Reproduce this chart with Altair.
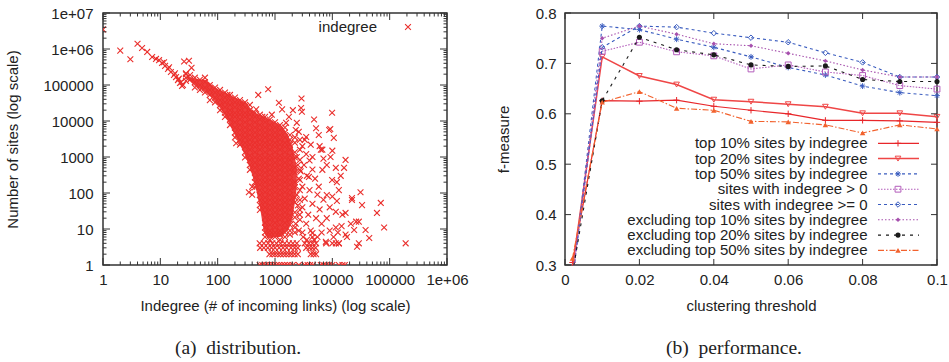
import altair as alt
import pandas as pd

FONT = "Liberation Sans"
SERIF = "Liberation Serif"
TXT = "#222222"
FRAME = "#333333"
RED = "#ea2f2c"

# ---------------- (a) distribution: indegree vs number of sites ----------------
band_x = [1, 2, 3, 4, 4.8, 5.9, 7.2, 8.4, 9.5, 10.7, 11.6, 12.1, 13.6, 14.2, 15.3, 17.3,
          18, 18.8, 20.3, 21, 22, 23, 23.9, 24.8]
band_y = [3.5e6, 9e5, 5.2e5, 1.4e6, 1.07e6, 8.3e5, 6.0e5, 5.3e5, 4.9e5, 4.1e5, 4.3e5, 3.4e5,
          2.8e5, 3.1e5, 2.3e5, 1.9e5, 2.1e5, 1.66e5, 1.37e5, 1.5e5, 1.14e5, 1.2e5, 9.4e4, 1.0e5]

core_columns = [
    (28, [200000, 160000, 130000]),
    (33, [190000, 140000]),
    (40, [160000, 120000, 85000]),
    (49, [140000, 100000, 73000]),
    (60, [160000, 120000, 85000, 62000]),
    (73, [100000, 73000, 53000, 38000]),
    (90, [85000, 62000, 45000, 33000]),
    (110, [73000, 53000, 38000, 28000, 20000]),
    (134, [62000, 45000, 33000, 24000, 17000, 13000]),
    (164, [53000, 38000, 28000, 20000, 15000, 11000, 7700]),
    (200, [45000, 33000, 24000, 17000, 13000, 9200, 6600, 4800, 3500]),
    (245, [38000, 28000, 20000, 15000, 11000, 7700, 5600, 4100, 3000, 2200]),
    (300, [33000, 24000, 17000, 13000, 9200, 6600, 4800, 3500, 2500, 1900, 1350, 970]),
    (365, [28000, 20000, 15000, 11000, 7700, 5600, 4100, 3000, 2200, 1600, 1100, 830, 600, 440]),
    (447, [17000, 13000, 9200, 6600, 4800, 3500, 2500, 1900, 1350, 970, 700, 510, 370, 270, 200, 145]),
    (545, [15000, 11000, 7700, 5600, 4100, 3000, 2200, 1600, 1100, 830, 600, 440, 320, 230, 170,
           120, 88, 64, 46, 34]),
    (670, [13000, 9200, 6600, 4800, 3500, 2500, 1900, 1350, 970, 700, 510, 370, 270, 200, 145,
           105, 75, 55, 40, 29, 21, 15, 11, 8, 6]),
    (815, [11000, 7700, 5600, 4100, 3000, 2200, 1600, 1100, 830, 600, 440, 320, 230, 170, 120,
           88, 64, 46, 34, 24, 18, 13, 9, 7, 5]),
    (1000, [9200, 6600, 4800, 3500, 2500, 1900, 1350, 970, 700, 510, 370, 270, 200, 145, 105,
            75, 55, 40, 29, 21, 15, 11, 8, 6]),
    (1220, [7700, 5600, 4100, 3000, 2200, 1600, 1100, 830, 600, 440, 320, 230, 170, 120, 88,
            64, 46, 34, 24, 18, 13, 9, 7, 5]),
    (1490, [6600, 4800, 3500, 2500, 1900, 1350, 970, 700, 510, 370, 270, 200, 145, 105, 75,
            55, 40, 29, 21, 15, 11, 8, 6]),
    (1820, [4100, 3000, 2200, 1600, 1100, 830, 600, 440, 320, 230, 170, 120, 88, 64, 46,
            34, 24, 18, 13, 9, 7]),
    (2220, [3500, 2500, 1350, 970, 510, 370, 200, 145, 75, 55, 29, 21, 11, 8]),
    (2720, [3000, 1600, 830, 440, 230, 120, 64, 34, 18]),
]

# solid-looking part of the core: indegree, upper and lower edge
fill_x = [30, 40, 60, 90, 134, 200, 300, 447, 545, 670, 815, 1000, 1220, 1490, 1820, 2100, 2400]
fill_top = [180000, 150000, 140000, 85000, 62000, 45000, 33000, 17000, 15000, 13000, 11000,
            9200, 7700, 5500, 3000, 1500, 500]
fill_bottom = [150000, 95000, 65000, 35000, 14000, 4000, 1100, 170, 40, 7, 5.5, 6, 6, 8, 12,
               30, 150]

sparse_x = [26, 31.6, 35, 28, 148, 510, 760, 2900, 1170, 275, 470, 1330, 2050, 2850, 2950, 600,
            880, 1750, 1560, 2400, 4800, 9900, 2300, 5200, 8800, 10600, 5800, 3500, 6700, 4500,
            9300, 17000, 11500, 6700, 3900, 9900, 5800, 13000, 8000, 22000, 11500, 17000, 26000,
            11500, 17000, 7700, 4500, 4500, 4200, 4800, 400, 400, 210, 350, 9200, 6300, 16000,
            31000, 33000, 70000, 60000, 80000, 190000, 29000, 44000, 27000, 29000, 13000, 18000,
            21000, 24000, 38000, 7800, 22000,
            3000, 3500, 4000, 3200, 2800, 3600, 4500, 5000, 3000, 4000, 5500, 3300, 4500, 6000,
            3000, 3800, 5200, 6500, 3500, 8000, 9000, 7000, 10000, 12000, 14000, 8000, 7000,
            6000, 10000, 12000, 15000, 2600, 3300, 4200, 2400, 2500, 2600, 2400, 2500, 2700,
            2300, 2600, 3100, 3600, 5500, 6500, 3000, 9000, 10500, 12500, 14500]
sparse_y = [4.5e5, 4.7e5, 3.0e5, 2.1e5, 5.3e4, 5.3e4, 7.6e4, 4.2e4, 3.2e4, 2.8e4, 2.1e4, 2.1e4,
            2.0e4, 2.3e4, 1.8e4, 1.3e4, 1.5e4, 1.3e4, 8900, 8900, 1.1e4, 1.7e4, 5600, 6300, 5600,
            3400, 4100, 3600, 1600, 1000, 1000, 830, 500, 440, 280, 230, 150, 120, 88, 72, 30, 28,
            16, 11, 7, 4.4, 6, 7.7, 9, 5, 150, 90, 2400, 105, 6000, 1600, 500, 105, 46, 53, 28, 11,
            4, 16, 5.6, 3.2, 4, 4, 6, 14, 9.4, 9.4, 4, 64,
            2000, 1200, 800, 600, 400, 300, 450, 250, 150, 120, 90, 70, 50, 35, 40, 25, 20, 14,
            14, 20, 40, 65, 80, 200, 300, 600, 900, 2000, 1500, 60, 25, 5000, 3000, 2200, 1000,
            600, 250, 90, 45, 25, 14, 9, 6, 5, 6, 8, 8, 9, 6, 8, 12]

row1_x = [540, 600, 680, 760, 850, 950, 1060, 1180, 1320, 1470, 1640, 1830, 2050, 2600, 3300,
          3700, 4100, 4600, 6300, 7000, 7800, 8800, 10000, 13000, 15000, 16500]
row2_x = [800, 900, 1000, 1120, 1250, 1400, 1560, 1750, 1950, 2200, 2500, 4200, 4700, 5200]
row3_x = [550, 640, 750, 870, 1000, 1180, 1380, 1600, 1900, 2200, 2500, 3500, 4000, 4500, 5100]
row4_x = [540, 640, 760, 900, 1060, 1250, 1480, 1750, 2050, 2400, 3300, 3900, 4500, 5200,
          10000, 11500, 13000]

x_ticks_a = [1, 10, 100, 1000, 10000, 100000, 1000000]
y_ticks_a = [1, 10, 100, 1000, 10000, 100000, 1000000, 10000000]

# ---------------- (b) performance ----------------
threshold = [0.002, 0.01, 0.02, 0.03, 0.04, 0.05, 0.06, 0.07, 0.08, 0.09, 0.10]
top10 = [0.305, 0.626, 0.625, 0.627, 0.615, 0.607, 0.600, 0.587, 0.587, 0.586, 0.583]
top20 = [0.295, 0.713, 0.675, 0.658, 0.628, 0.624, 0.619, 0.614, 0.601, 0.601, 0.594]
top50 = [0.268, 0.774, 0.767, 0.748, 0.732, 0.713, 0.692, 0.677, 0.655, 0.642, 0.636]
gt0 = [0.275, 0.724, 0.742, 0.723, 0.715, 0.689, 0.697, 0.683, 0.676, 0.656, 0.649]
ge0 = [0.270, 0.732, 0.774, 0.772, 0.760, 0.751, 0.742, 0.721, 0.702, 0.673, 0.673]
excl10 = [0.272, 0.750, 0.774, 0.758, 0.739, 0.735, 0.720, 0.705, 0.687, 0.673, 0.673]
excl20 = [0.283, 0.626, 0.752, 0.727, 0.717, 0.697, 0.694, 0.695, 0.668, 0.664, 0.664]
excl50 = [0.313, 0.623, 0.644, 0.611, 0.607, 0.585, 0.584, 0.578, 0.562, 0.578, 0.570]
labels_b = ["top 10% sites by indegree", "top 20% sites by indegree",
            "top 50% sites by indegree", "sites with indegree > 0",
            "sites with indegree >= 0", "excluding top 10% sites by indegree",
            "excluding top 20% sites by indegree", "excluding top 50% sites by indegree"]
x_ticks_b = [0, 0.02, 0.04, 0.06, 0.08, 0.1]
y_ticks_b = [0.3, 0.4, 0.5, 0.6, 0.7, 0.8]

X_SHAPE = "M-1,-1L1,1M-1,1L1,-1"
PLUS = "M-1,0L1,0M0,-1L0,1"
STAR = "M-1,0L1,0M0,-1L0,1M-0.7,-0.7L0.7,0.7M-0.7,0.7L0.7,-0.7"

AX = dict(labelFont=FONT, titleFont=FONT, labelFontSize=15, titleFontSize=15,
          labelColor=TXT, titleColor=TXT, titleFontWeight="normal", grid=False,
          ticks=False, domain=False, labelFlush=False)

W_A, H_A = 344, 252
W_B, H_B = 372, 252

log_label = ("datum.value >= 1000000 ? replace(format(datum.value, '.0e'), 'e+', 'e+0')"
             " : format(datum.value, 'd')")
xs_a = alt.Scale(type="log", domain=[1, 1e6], nice=False)
ys_a = alt.Scale(type="log", domain=[1, 1e7], nice=False)
xaxis_a = alt.Axis(values=x_ticks_a, labelExpr=log_label, labelPadding=7, titlePadding=11,
                   title="Indegree (# of incoming links) (log scale)", **AX)
yaxis_a = alt.Axis(values=y_ticks_a, labelExpr=log_label, labelPadding=10, titlePadding=22,
                   title="Number of sites (log scale)", **AX)

xs_b = alt.Scale(domain=[0, 0.1], nice=False, zero=False)
ys_b = alt.Scale(domain=[0.3, 0.8], nice=False, zero=False)
xaxis_b = alt.Axis(values=x_ticks_b, labelExpr="format(datum.value, '.2~f')", labelPadding=7,
                   titlePadding=11, title="clustering threshold", **AX)
yaxis_b = alt.Axis(values=y_ticks_b, format=".1f", labelPadding=9, titlePadding=24,
                   title="f-measure", **AX)


def tick_layers(xvals, yvals, xscale, yscale, xaxis, yaxis, W, H, length,
                color="#333333", width=1.0):
    layers = []
    if xvals:
        base = alt.Chart(pd.DataFrame({"v": xvals})).mark_rule(color=color, strokeWidth=width)
        xe = alt.X("v:Q", scale=xscale, axis=xaxis)
        layers.append(base.encode(x=xe, y=alt.value(H), y2=alt.value(H - length)))
        layers.append(base.encode(x=xe, y=alt.value(0), y2=alt.value(length)))
    if yvals:
        base = alt.Chart(pd.DataFrame({"v": yvals})).mark_rule(color=color, strokeWidth=width)
        ye = alt.Y("v:Q", scale=yscale, axis=yaxis)
        layers.append(base.encode(y=ye, x=alt.value(0), x2=alt.value(length)))
        layers.append(base.encode(y=ye, x=alt.value(W), x2=alt.value(W - length)))
    return layers


# ----- panel (a) -----
pts = list(zip(band_x, band_y))
for cx, cys in core_columns:
    pts += [(cx, cy) for cy in cys]
pts += list(zip(sparse_x, sparse_y))
pts += [(v, 1) for v in row1_x] + [(v, 2) for v in row2_x]
pts += [(v, 3) for v in row3_x] + [(v, 4) for v in row4_x]
scatter_df = pd.DataFrame(pts, columns=["indegree", "sites"])

scatter = alt.Chart(scatter_df).mark_point(
    shape=X_SHAPE, size=34, filled=False, stroke=RED, strokeWidth=1.1, opacity=1, clip=True
).encode(
    x=alt.X("indegree:Q", scale=xs_a, axis=xaxis_a),
    y=alt.Y("sites:Q", scale=ys_a, axis=yaxis_a),
)

core_fill = alt.Chart(pd.DataFrame({"indegree": fill_x, "top": fill_top, "bottom": fill_bottom})
                      ).mark_area(color=RED, opacity=0.92, clip=True, interpolate="monotone").encode(
    x=alt.X("indegree:Q", scale=xs_a, axis=xaxis_a),
    y=alt.Y("top:Q", scale=ys_a, axis=yaxis_a),
    y2="bottom:Q",
)

minor_x = [m * 10 ** k for k in range(6) for m in range(2, 10)]
minor_y = [m * 10 ** k for k in range(7) for m in range(2, 10)]
ticks_a = (tick_layers(x_ticks_a, y_ticks_a, xs_a, ys_a, xaxis_a, yaxis_a, W_A, H_A, 7)
           + tick_layers(minor_x, minor_y, xs_a, ys_a, xaxis_a, yaxis_a, W_A, H_A, 3.5))

one = pd.DataFrame({"t": ["indegree"]})
leg_a = [
    alt.Chart(one).mark_text(align="right", baseline="middle", font=FONT, fontSize=15,
                             color=TXT).encode(x=alt.value(274), y=alt.value(14), text="t:N"),
    alt.Chart(one).mark_point(shape=X_SHAPE, size=34, filled=False, stroke=RED,
                              strokeWidth=1.1, opacity=1).encode(x=alt.value(305), y=alt.value(14)),
]

panel_a = alt.layer(scatter, core_fill, *ticks_a, *leg_a).properties(
    width=W_A, height=H_A,
    title=alt.TitleParams("(a)\u00a0 distribution.", orient="bottom", anchor="middle",
                          frame="group", dx=-37, offset=26, font=SERIF, fontSize=19.5,
                          fontWeight="normal", color=TXT),
)

# ----- panel (b) -----
series_vals = [top10, top20, top50, gt0, ge0, excl10, excl20, excl50]
styles = [
    dict(color="#e8262a", dash=None, width=1.2, shape=PLUS, filled=False, size=40),
    dict(color="#ef4646", dash=None, width=1.5, shape="triangle-down", filled=False, size=32),
    dict(color="#3a5cbf", dash=[3, 3], width=1.1, shape=STAR, filled=False, size=34),
    dict(color="#b35cbb", dash=[1.5, 1.5], width=1.1, shape="square", filled=False, size=34),
    dict(color="#3a5cbf", dash=[3, 3], width=1.1, shape="diamond", filled=False, size=30),
    dict(color="#a650ad", dash=[1.5, 2], width=1.1, shape="diamond", filled=True, size=20),
    dict(color="#1a1a1a", dash=[3, 5], width=1.1, shape="circle", filled=True, size=26),
    dict(color="#f2622e", dash=[6, 2, 1.5, 2], width=1.1, shape="triangle-up", filled=True, size=30),
]

layers_b = []
legend_b = []
for i, (lab, vals, st) in enumerate(zip(labels_b, series_vals, styles)):
    df = pd.DataFrame({"t": threshold, "f": vals})
    xe = alt.X("t:Q", scale=xs_b, axis=xaxis_b)
    ye = alt.Y("f:Q", scale=ys_b, axis=yaxis_b)
    line_kw = dict(color=st["color"], strokeWidth=st["width"], clip=True)
    if st["dash"]:
        line_kw["strokeDash"] = st["dash"]
    layers_b.append(alt.Chart(df).mark_line(**line_kw).encode(x=xe, y=ye))
    pt_kw = dict(shape=st["shape"], size=st["size"], filled=st["filled"], opacity=1,
                 strokeWidth=1)
    if st["filled"]:
        pt_kw["fill"] = st["color"]
    else:
        pt_kw["stroke"] = st["color"]
    layers_b.append(alt.Chart(df).transform_filter("datum.f >= 0.3").mark_point(**pt_kw)
                    .encode(x=xe, y=ye))

    yy = 130.3 + i * 15.3
    ldf = pd.DataFrame({"t": [lab]})
    legend_b.append(alt.Chart(ldf).mark_text(align="right", baseline="middle", font=FONT,
                                             fontSize=15, color=TXT).encode(
        x=alt.value(302.5), y=alt.value(yy), text="t:N"))
    rule_kw = dict(color=st["color"], strokeWidth=st["width"])
    if st["dash"]:
        rule_kw["strokeDash"] = st["dash"]
    legend_b.append(alt.Chart(ldf).mark_rule(**rule_kw).encode(
        x=alt.value(313), x2=alt.value(354), y=alt.value(yy)))
    legend_b.append(alt.Chart(ldf).mark_point(**pt_kw).encode(
        x=alt.value(333), y=alt.value(yy)))

ticks_b = tick_layers(x_ticks_b, y_ticks_b, xs_b, ys_b, xaxis_b, yaxis_b, W_B, H_B, 6)

panel_b = alt.layer(*layers_b, *ticks_b, *legend_b).properties(
    width=W_B, height=H_B,
    title=alt.TitleParams("(b)\u00a0 performance.", orient="bottom", anchor="middle",
                          frame="group", dx=-17, offset=26, font=SERIF, fontSize=19.5,
                          fontWeight="normal", color=TXT),
)

chart = alt.hconcat(panel_a, panel_b, spacing=26).configure_view(
    stroke=FRAME, strokeWidth=1.5
).properties(
    background="white", padding={"left": 5, "top": 5, "right": 0, "bottom": 5}
)

chart.save("out.html", embed_options={"renderer": "svg", "actions": False})
